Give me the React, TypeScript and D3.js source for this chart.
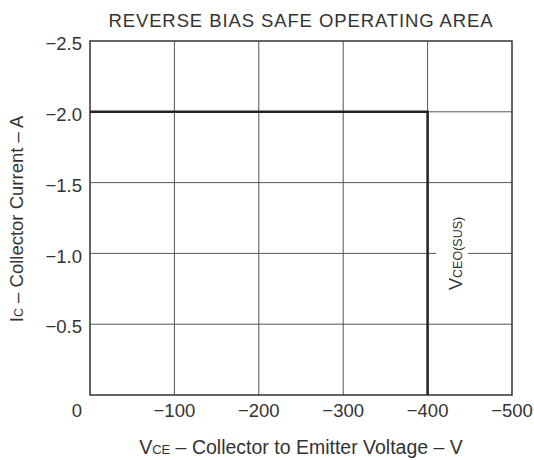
import React from "react";
import * as d3 from "d3";

const xTicks = [0, -100, -200, -300, -400, -500];
const yTicks = [0, -0.5, -1.0, -1.5, -2.0, -2.5];
const xTickLabels = ["0", "−100", "−200", "−300", "−400", "−500"];
const yTickLabels = ["", "−0.5", "−1.0", "−1.5", "−2.0", "−2.5"];

// safe operating area boundary (VCE, IC)
const boundaryV = [0, -400, -400];
const boundaryI = [-2.0, -2.0, 0];

const width = 534;
const height = 460;
const margin = { top: 41, right: 22, bottom: 65, left: 90 };
const textColor = "#333";
const font = "'Liberation Sans', Arial, Helvetica, sans-serif";

const App: React.FC = () => {
  const x = d3
    .scaleLinear()
    .domain([0, -500])
    .range([margin.left, width - margin.right]);
  const y = d3
    .scaleLinear()
    .domain([0, -2.5])
    .range([height - margin.bottom, margin.top]);

  const line = d3
    .line<number>()
    .x((_, i) => x(boundaryV[i]))
    .y((_, i) => y(boundaryI[i]));

  const labelX = 452;
  const labelY = y(-1.0);

  return (
    <svg
      width={width}
      height={height}
      style={{ position: "absolute", left: 0, top: 0, background: "#fff" }}
      fontFamily={font}
    >
      <rect width={width} height={height} fill="#fff" />
      <text
        x={301}
        y={27}
        textAnchor="middle"
        fontSize={18.5}
        letterSpacing={0.9}
        fill={textColor}
      >
        REVERSE BIAS SAFE OPERATING AREA
      </text>

      {/* grid */}
      {xTicks.slice(1, -1).map((t) => (
        <line
          key={"gx" + t}
          x1={x(t)}
          x2={x(t)}
          y1={y(0)}
          y2={y(-2.5)}
          stroke="#555"
          strokeWidth={1}
        />
      ))}
      {yTicks.slice(1, -1).map((t) => (
        <line
          key={"gy" + t}
          x1={x(0)}
          x2={x(-500)}
          y1={y(t)}
          y2={y(t)}
          stroke="#555"
          strokeWidth={1}
        />
      ))}

      {/* gap behind the VCEO(SUS) label */}
      <rect x={436} y={labelY - 40} width={32} height={80} fill="#fff" />
      <text
        transform={`translate(${labelX + 10},${labelY}) rotate(-90)`}
        textAnchor="middle"
        fill={textColor}
        fontSize={18}
      >
        V<tspan fontSize={12.5}>CEO(SUS)</tspan>
      </text>

      {/* frame */}
      <rect
        x={x(0)}
        y={y(-2.5)}
        width={x(-500) - x(0)}
        height={y(0) - y(-2.5)}
        fill="none"
        stroke="#333"
        strokeWidth={1.5}
      />

      {/* boundary */}
      <path
        d={line(boundaryV) || ""}
        fill="none"
        stroke="#222"
        strokeWidth={2.5}
      />

      {/* y tick labels */}
      {yTicks.map((t, i) =>
        yTickLabels[i] ? (
          <text
            key={"yl" + t}
            x={x(0) - 8}
            y={y(t)}
            dy="0.5em"
            textAnchor="end"
            fontSize={18.5}
            fill={textColor}
          >
            {yTickLabels[i]}
          </text>
        ) : null
      )}

      {/* x tick labels */}
      {xTicks.map((t, i) => (
        <text
          key={"xl" + t}
          x={i === 0 ? x(t) - 13 : x(t)}
          y={417}
          textAnchor="middle"
          fontSize={18.5}
          fill={textColor}
        >
          {xTickLabels[i]}
        </text>
      ))}

      {/* axis titles */}
      <text
        x={301}
        y={454}
        textAnchor="middle"
        fontSize={19.5}
        fill={textColor}
      >
        V<tspan fontSize={13}>CE</tspan> – Collector to Emitter Voltage – V
      </text>
      <text
        transform={`translate(23,219) rotate(-90)`}
        textAnchor="middle"
        fontSize={18.5}
        fill={textColor}
      >
        I<tspan fontSize={12.5}>C</tspan> – Collector Current – A
      </text>
    </svg>
  );
};

export default App;
